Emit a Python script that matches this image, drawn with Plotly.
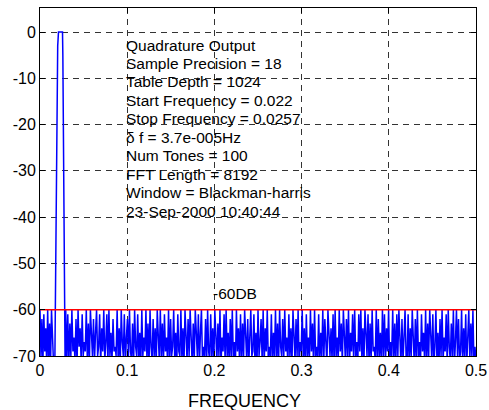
import numpy as np
import plotly.graph_objects as go

# ---- data ----
noise_left_freq = [0.0, 0.0011, 0.0022, 0.0033, 0.0044, 0.0055, 0.0066, 0.0077, 0.0088,
                   0.0099, 0.0110, 0.0121, 0.0132, 0.0143, 0.0154]
noise_left_db = [-60, -70, -62, -72, -61, -69, -64, -72, -60, -71, -63, -72, -60, -68, -71]

peak_freq = [0.0170, 0.0180, 0.0190, 0.0197, 0.0203, 0.0212, 0.0258, 0.0262, 0.0266, 0.0272, 0.0280, 0.0288]
peak_db = [-72, -50, -25, -12, -3, 0, 0, -5, -20, -40, -58, -72]

noise_right_db = [
    -60, -71, -61, -72, -63, -70, -60, -69, -66, -71,
    -62, -72, -60, -68, -64, -71, -61, -70, -67, -69,
    -60, -71, -63, -72, -60, -66, -70, -62, -71, -65,
    -60, -70, -68, -61, -72, -64, -69, -60, -71, -67,
    -61, -72, -60, -70, -65, -71, -62, -69, -68, -70,
    -60, -71, -64, -72, -60, -67, -70, -61, -72, -66,
    -62, -70, -60, -69, -71, -63, -72, -60, -68, -70,
    -61, -71, -65, -72, -60, -70, -66, -69, -60, -71,
    -63, -72, -60, -68, -71, -62, -70, -64, -72, -60,
    -67, -71, -60, -70, -63, -72, -61, -69, -66, -71,
    -60, -72, -62, -70, -68, -60, -71, -65, -72, -61,
    -69, -70, -60, -71, -64, -72, -60, -67, -71, -62,
    -70, -60, -69, -72, -63, -71, -60, -66, -70, -61,
    -72, -65, -60, -71, -68, -70, -62, -72, -60, -69,
    -71, -61, -70, -64, -72, -60, -68, -71, -63, -70,
    -60, -72, -66, -69, -61, -71, -60, -70, -65, -72,
    -62, -70, -60, -71, -67, -72, -60, -69, -64, -71,
    -61, -72, -63, -70, -60, -68, -71, -62, -72, -66,
    -60, -70, -69, -61, -71, -65, -72, -60, -70, -67,
    -62, -71, -60, -72, -64, -69, -60, -71, -68, -70,
    -61, -72, -65, -70, -60, -71, -63, -72, -60, -68,
    -70, -62, -71, -60, -69, -66, -72, -61, -70, -64,
    -72, -60, -68, -71, -62, -70, -60, -72, -67, -69,
    -60, -71, -64, -72, -61, -70, -66, -71, -60, -69,
    -63, -72, -60, -70, -68, -71, -61, -72, -65, -70,
    -60, -71, -62, -69, -72, -60, -67, -70, -64, -71,
    -61, -72, -60, -70, -66, -71, -60, -69, -63, -72,
    -60, -68, -71, -62, -70, -60, -72, -65, -69, -61,
    -71, -60, -70, -67, -72, -61, -69, -60, -71, -64,
    -72, -60, -66, -70, -61, -72, -63, -71, -60, -69,
    -68, -71, -60, -72, -62, -70, -65, -72, -60, -70,
    -61, -71, -64, -69, -60, -72, -67, -70, -60, -71,
    -63, -72, -61, -70, -60, -68, -72, -62, -71, -66,
    -60, -70, -71, -61, -72, -64, -70, -60, -69, -72,
    -62, -71, -60, -70, -67, -72, -61, -69, -65, -71,
    -60, -72, -63, -70, -60, -69, -71, -61, -72, -68,
    -60, -71, -65, -72, -62, -70, -60, -71, -66, -69,
    -61, -72, -60, -68, -71, -63, -70, -60, -72, -67,
    -60, -70, -62, -71, -69, -60, -72, -64, -70, -61,
    -72, -66, -60, -71, -63, -70, -60, -72, -68, -71,
]
noise_right_freq = list(np.linspace(0.0295, 0.5, len(noise_right_db)))

threshold_db = -60
x_ticks = [0, 0.1, 0.2, 0.3, 0.4, 0.5]
x_tick_labels = ["0", "0.1", "0.2", "0.3", "0.4", "0.5"]
y_ticks = [0, -10, -20, -30, -40, -50, -60, -70]
y_tick_labels = ["0", "-10", "-20", "-30", "-40", "-50", "-60", "-70"]

info_lines = [
    "Quadrature Output",
    "Sample Precision = 18",
    "Table Depth = 1024",
    "Start Frequency = 0.022",
    "Stop Frequency = 0.0257",
    "δ f = 3.7e-005Hz",
    "Num Tones = 100",
    "FFT Length = 8192",
    "Window = Blackman-harris",
    "23-Sep-2000 10:40:44",
]
threshold_label = "-60DB"
x_title = "FREQUENCY"

freq = noise_left_freq + peak_freq + noise_right_freq
db = noise_left_db + peak_db + noise_right_db

FONT = "Liberation Sans, Arial, sans-serif"

fig = go.Figure()
fig.add_trace(go.Scatter(x=freq, y=db, mode="lines",
                         line=dict(color="#0000FF", width=1.5), showlegend=False,
                         hoverinfo="skip"))
fig.add_trace(go.Scatter(x=[0, 0.5], y=[threshold_db, threshold_db], mode="lines",
                         line=dict(color="#FF0000", width=1.6), showlegend=False,
                         hoverinfo="skip"))

annotations = []
for i, t in enumerate(info_lines):
    annotations.append(dict(x=0.1, y=-2.8 - 3.99 * i, xref="x", yref="y", text=t,
                            showarrow=False, xanchor="left", yanchor="middle",
                            xshift=-2, borderpad=0,
                            font=dict(family=FONT, size=15.5, color="black")))
annotations.append(dict(x=0.2, y=-56.4, xref="x", yref="y", text=threshold_label,
                        showarrow=False, xanchor="left", yanchor="middle",
                        xshift=-2, borderpad=0,
                        font=dict(family=FONT, size=15.5, color="black")))
annotations.append(dict(x=0.468, y=-0.129, xref="paper", yref="paper", text=x_title,
                        showarrow=False, xanchor="center", yanchor="middle",
                        font=dict(family=FONT, size=18, color="black")))

fig.update_layout(
    width=489, height=410,
    margin=dict(l=40, r=13, t=8, b=54),
    paper_bgcolor="white", plot_bgcolor="white",
    font=dict(family=FONT, size=13, color="black"),
    annotations=annotations,
    xaxis=dict(range=[0, 0.5], tickvals=x_ticks, ticktext=x_tick_labels,
               showgrid=True, gridcolor="#333", griddash="6px,5px", gridwidth=1,
               showline=True, linecolor="black", linewidth=1, mirror="ticks",
               ticks="inside", ticklen=5, tickcolor="black", automargin=False,
               zeroline=False, tickfont=dict(size=16)),
    yaxis=dict(range=[-70, 5.2], tickvals=y_ticks, ticktext=y_tick_labels,
               showgrid=True, gridcolor="#333", griddash="6px,5px", gridwidth=1,
               showline=True, linecolor="black", linewidth=1, mirror="ticks",
               ticks="inside", ticklen=5, tickcolor="black", automargin=False,
               zeroline=False, tickfont=dict(size=16)),
)

fig.write_html("out.html")
